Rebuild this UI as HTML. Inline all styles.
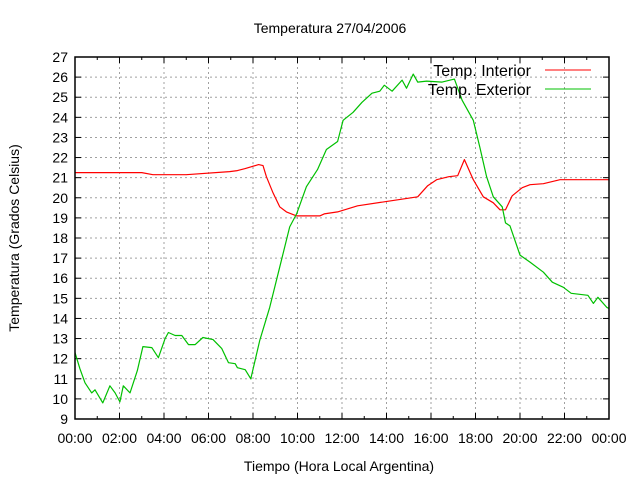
<!DOCTYPE html>
<html><head><meta charset="utf-8"><style>
body{margin:0;background:#fff}
svg{display:block;font-family:"Liberation Sans",sans-serif}
</style></head><body>
<svg id="chart" width="640" height="480" xmlns="http://www.w3.org/2000/svg">
<text x="330" y="33" font-size="14" text-anchor="middle">Temperatura 27/04/2006</text>
<text x="339" y="471" font-size="14" text-anchor="middle">Tiempo (Hora Local Argentina)</text>
<text transform="translate(19,238) rotate(-90)" font-size="14" text-anchor="middle">Temperatura (Grados Celsius)</text>
<g id="grid"></g>
<g id="ticks"></g>
<g id="series"></g>
<rect x="75" y="57" width="534" height="362" fill="none" stroke="#000" stroke-width="1.5"/>
<g>
<g><text x="531" y="76" font-size="16" text-anchor="end">Temp. Interior</text><line x1="545" y1="70" x2="591" y2="70" stroke="#ff0000" stroke-width="1"/></g>
<g><text x="531" y="95" font-size="16" text-anchor="end">Temp. Exterior</text><line x1="545" y1="89" x2="591" y2="89" stroke="#00c000" stroke-width="1"/></g>
</g>
</svg>
<script>
const xTickLabels=["00:00","02:00","04:00","06:00","08:00","10:00","12:00","14:00","16:00","18:00","20:00","22:00","00:00"];
const yTicks=[9,10,11,12,13,14,15,16,17,18,19,20,21,22,23,24,25,26,27];
const interiorHours=[0,1,2,3,3.5,5,6.95,7.3,7.65,7.95,8.25,8.45,8.6,8.9,9.2,9.5,9.96,11.0,11.2,11.8,12.7,13.9,15.4,15.85,16.25,16.8,17.2,17.5,17.9,18.35,18.8,19.1,19.35,19.65,20.1,20.45,21.05,21.8,24];
const interiorTemps=[21.25,21.25,21.25,21.25,21.15,21.15,21.3,21.35,21.45,21.55,21.65,21.6,21.05,20.25,19.55,19.3,19.1,19.1,19.2,19.3,19.6,19.8,20.05,20.6,20.9,21.05,21.1,21.9,20.9,20.05,19.75,19.4,19.4,20.1,20.5,20.65,20.7,20.9,20.9];
const exteriorHours=[0,0.22,0.45,0.75,0.9,1.25,1.57,1.8,2.02,2.17,2.47,2.8,3.05,3.45,3.75,4.05,4.2,4.5,4.8,5.1,5.4,5.75,6.2,6.6,6.9,7.2,7.3,7.65,7.9,8.3,8.75,9.2,9.65,9.96,10.4,10.9,11.3,11.8,12.05,12.5,12.9,13.35,13.7,13.9,14.25,14.7,14.9,15.2,15.4,15.8,16.5,17.05,17.4,17.9,18.2,18.5,18.8,19.2,19.35,19.55,20,20.45,21.05,21.45,21.95,22.3,23.05,23.3,23.5,23.9,24];
const exteriorTemps=[12.3,11.5,10.8,10.3,10.45,9.8,10.65,10.3,9.85,10.65,10.3,11.4,12.6,12.55,12.05,13.0,13.3,13.15,13.15,12.7,12.7,13.05,12.95,12.5,11.8,11.75,11.55,11.45,11.0,12.9,14.55,16.55,18.55,19.2,20.55,21.4,22.4,22.8,23.85,24.25,24.75,25.2,25.3,25.6,25.3,25.85,25.45,26.15,25.75,25.8,25.75,25.9,24.85,23.85,22.5,21.05,20.05,19.55,18.75,18.6,17.15,16.8,16.3,15.8,15.55,15.25,15.15,14.75,15.05,14.55,14.5];
const X0=75,X1=609,Y0=419,Y1=57,YMIN=9,YMAX=27;
const xs=h=>X0+(X1-X0)*h/24;
const ys=t=>Y0-(Y0-Y1)*(t-YMIN)/(YMAX-YMIN);
const NS="http://www.w3.org/2000/svg";
const grid=document.getElementById('grid'),ticks=document.getElementById('ticks'),series=document.getElementById('series');
function mk(tag,attrs,parent){const e=document.createElementNS(NS,tag);for(const k in attrs)e.setAttribute(k,attrs[k]);parent.appendChild(e);return e;}
yTicks.forEach(v=>{
  const y=ys(v);
  if(v>YMIN&&v<YMAX){const g=mk('line',{x1:X0,x2:X1,y1:y,y2:y,stroke:'#a0a0a0','stroke-dasharray':'2,3'},grid);
  
  }
  mk('line',{x1:X0,x2:X0+6,y1:y,y2:y,stroke:'#000'},ticks);
  mk('line',{x1:X1-6,x2:X1,y1:y,y2:y,stroke:'#000'},ticks);
  const t=mk('text',{x:68,y:y+5,'font-size':14,'text-anchor':'end'},ticks);t.textContent=v;
  
  
});
xTickLabels.forEach((lab,i)=>{
  const x=xs(i*2);
  if(i>0&&i<xTickLabels.length-1){const g=mk('line',{x1:x,x2:x,y1:Y1,y2:Y0,stroke:'#a0a0a0','stroke-dasharray':'2,3'},grid);
  
  }
  mk('line',{x1:x,x2:x,y1:Y0,y2:Y0-6,stroke:'#000'},ticks);
  mk('line',{x1:x,x2:x,y1:Y1,y2:Y1+6,stroke:'#000'},ticks);
  const t=mk('text',{x:x,y:443,'font-size':14,'text-anchor':'middle'},ticks);t.textContent=lab;
  
  
});
for(let h=1;h<24;h+=2){const x=xs(h);mk('line',{x1:x,x2:x,y1:Y0,y2:Y0-3,stroke:'#000'},ticks);mk('line',{x1:x,x2:x,y1:Y1,y2:Y1+3,stroke:'#000'},ticks);}
function line(hs,ts,color,name){
  const p=mk('polyline',{points:hs.map((h,i)=>xs(h).toFixed(1)+','+ys(ts[i]).toFixed(1)).join(' '),fill:'none',stroke:color,'stroke-width':1.2,'stroke-linejoin':'round'},series);
  
  
}
line(interiorHours,interiorTemps,'#ff0000','interior-line');
line(exteriorHours,exteriorTemps,'#00c000','exterior-line');
</script>
</body></html>
